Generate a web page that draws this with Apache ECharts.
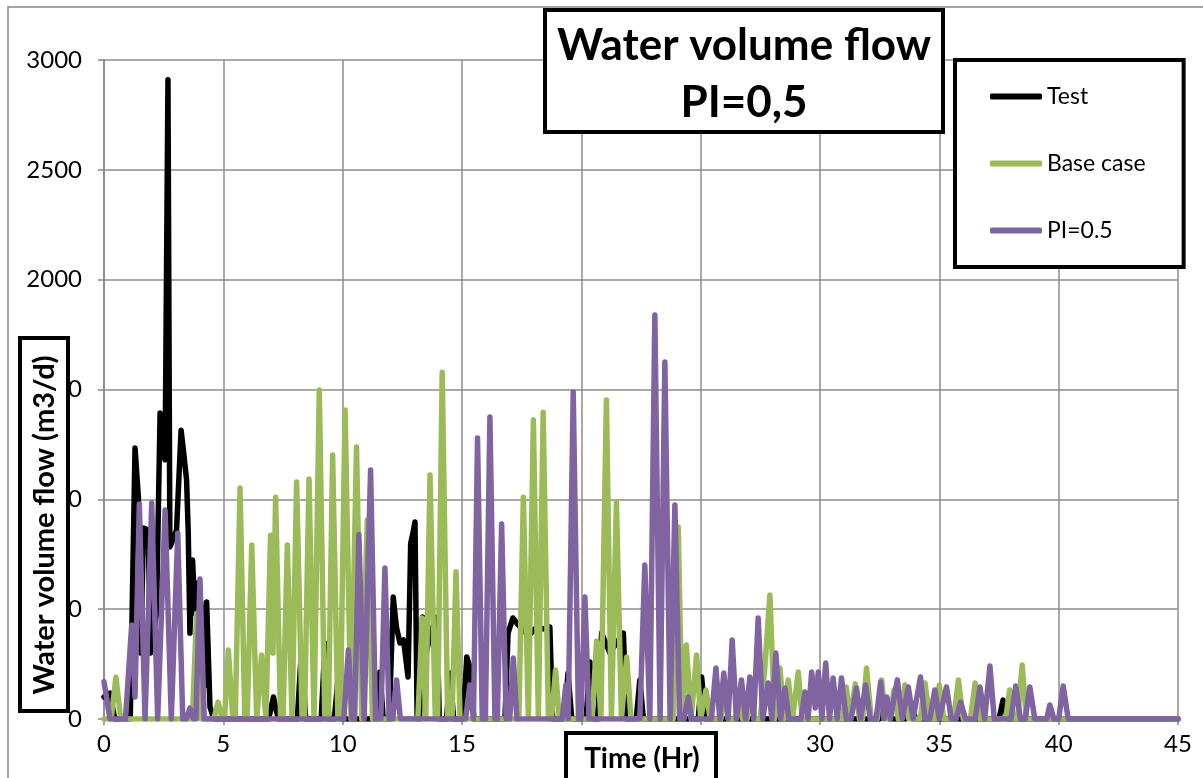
<!DOCTYPE html>
<html>
<head>
<meta charset="utf-8">
<script src="https://cdn.jsdelivr.net/npm/echarts@6/dist/echarts.min.js"></script>
<style>
  html, body { margin: 0; padding: 0; background: #fff; }
  #chart { width: 1203px; height: 778px; }
</style>
</head>
<body>
<div id="chart"></div>
<script>
// Test
const testTime = [0, 0.25, 0.45, 1.1, 1.3, 1.44, 1.55, 1.65, 1.85, 1.95, 2.2, 2.35, 2.42, 2.5, 2.56, 2.68, 2.76, 2.9, 3.04, 3.23, 3.35, 3.46, 3.53, 3.6, 3.71, 3.81, 3.95, 4.1, 4.2, 4.3, 4.44, 4.6,
  6.9, 7.1, 7.3, 8.1, 8.28, 8.45, 9.1, 9.26, 9.42, 9.65, 9.8, 9.95, 11.4, 11.56, 11.7, 11.95, 12.12, 12.25, 12.4, 12.55, 12.74, 12.85, 12.95, 13.03, 13.12,
  13.22, 13.35, 13.5, 13.7, 13.95, 14.05, 14.35, 14.5, 14.65, 15.05, 15.2, 15.33, 15.5, 16.8, 16.93, 17.13, 17.36, 17.6, 17.8, 18.13, 18.4, 18.68, 18.8,
  19.3, 19.44, 19.6, 20.2, 20.36, 20.5, 20.7, 20.85, 21.2, 21.5, 21.76, 21.9, 22.3, 22.45, 22.6, 24.9, 25.04, 25.2,
  32.5, 32.7, 32.9, 33.6, 33.8, 34.0, 37.5, 37.67, 37.85, 45]
const testFlow = [100, 118, 0, 0, 1234, 1010, 300, 870, 860, 300, 480, 1393, 1300, 1200, 1180, 2910, 783, 820, 860, 1315, 1200, 1088, 846, 391, 724, 482, 620, 480, 150, 533, 55, 0,
  0, 100, 0, 0, 328, 0, 0, 346, 0, 0, 177, 0, 0, 214, 0, 0, 555, 420, 346, 360, 191, 800, 850, 897, 0,
  0, 464, 300, 400, 464, 0, 0, 209, 0, 0, 282, 237, 0, 0, 391, 460, 428, 400, 380, 419, 410, 419, 0,
  0, 209, 0, 0, 260, 0, 0, 391, 300, 350, 391, 0, 0, 178, 0, 0, 191, 0,
  0, 60, 0, 0, 80, 0, 0, 86, 0, 0]

// Base case
const baseTime = [0, 0.3, 0.5, 0.7, 3.7, 3.88, 4.05, 4.6, 4.78, 4.95, 5.05, 5.21, 5.4, 5.5, 5.7, 5.9, 6.0, 6.19, 6.4, 6.45, 6.6, 6.78, 6.85, 6.98, 7.08, 7.19, 7.4,
  7.5, 7.68, 7.88, 7.9, 8.07, 8.3, 8.4, 8.59, 8.8, 8.85, 9.02, 9.25, 9.4, 9.58, 9.8, 9.9, 10.1, 10.35, 10.4, 10.58, 10.8, 10.85, 11.03, 11.25,
  13.15, 13.33, 13.48, 13.5, 13.66, 13.88, 13.98, 14.17, 14.4, 14.58, 14.75, 14.92, 17.38, 17.57, 17.78, 17.8, 17.99, 18.2, 18.22, 18.4, 18.62,
  18.75, 18.92, 19.08, 20.45, 20.64, 20.82, 20.86, 21.05, 21.26, 21.3, 21.47, 21.68, 21.75, 21.9, 22.08, 23.85, 24.06, 24.22, 24.25, 24.4, 24.6,
  24.65, 24.83, 25.0, 25.05, 25.22, 25.4, 25.85, 26.0, 26.15, 26.45, 26.6, 26.75, 26.95, 27.1, 27.25, 27.5, 27.69, 27.9, 28.1, 28.15, 28.32, 28.5,
  28.52, 28.67, 28.85, 28.92, 29.09, 29.25, 30.95, 31.1, 31.25, 31.33, 31.48, 31.65, 31.78, 31.95, 32.15, 32.4, 32.58, 32.75, 32.92, 33.1, 33.28,
  33.4, 33.56, 33.72, 34.2, 34.4, 34.6, 34.82, 35.0, 35.18, 35.6, 35.8, 36.0, 36.3, 36.5, 36.7, 37.78, 37.95, 38.1, 38.28, 38.47, 38.65, 45]
const baseFlow = [0, 0, 190, 0, 0, 480, 0, 0, 77, 0, 0, 314, 0, 0, 1052, 0, 0, 792, 0, 0, 291, 0, 0, 837, 300, 1010, 0,
  0, 792, 0, 0, 1079, 0, 0, 1092, 0, 0, 1498, 0, 0, 1202, 0, 0, 1407, 0, 0, 1238, 0, 0, 906, 0,
  0, 460, 0, 0, 1111, 0, 0, 1578, 0, 0, 670, 0, 0, 1010, 0, 0, 1361, 0, 0, 1397, 0,
  0, 223, 0, 0, 355, 0, 0, 1452, 0, 0, 988, 0, 0, 282, 0, 0, 874, 0, 0, 337, 0,
  0, 291, 0, 0, 132, 0, 0, 150, 0, 0, 120, 0, 0, 130, 0, 0, 237, 564, 0, 0, 232, 0,
  0, 178, 0, 0, 214, 0, 0, 146, 0, 0, 160, 0, 0, 232, 0, 0, 178, 0, 0, 132, 0,
  0, 155, 0, 0, 164, 0, 0, 155, 0, 0, 178, 0, 0, 164, 0, 0, 132, 0, 0, 246, 0, 0]

// PI=0.5
const piTime = [0, 0.08, 0.25, 0.9, 1.16, 1.3, 1.48, 1.72, 2.0, 2.25, 2.56, 2.82, 3.09, 3.3, 3.45, 3.6, 3.75, 3.85, 4.02, 4.2,
  10.05, 10.24, 10.4, 10.5, 10.68, 10.9, 10.98, 11.17, 11.38, 11.6, 11.77, 11.95, 12.1, 12.26, 12.42,
  15.15, 15.33, 15.48, 15.5, 15.65, 15.85, 15.98, 16.17, 16.38, 16.48, 16.66, 16.85, 17.0, 17.15, 17.3,
  19.2, 19.35, 19.45, 19.5, 19.66, 19.88, 19.98, 20.15, 20.32, 22.45, 22.66, 22.87, 22.9, 23.08, 23.3, 23.32, 23.5, 23.72, 23.75, 23.92, 24.12,
  24.3, 24.48, 24.62, 25.45, 25.64, 25.8, 25.97, 26.15, 26.32, 26.5, 26.71, 26.88, 27.06, 27.22, 27.41, 27.6, 27.83, 27.98, 28.15, 28.35, 28.53, 28.7,
  29.2, 29.37, 29.5, 29.65, 29.8, 29.93, 30.08, 30.24, 30.4, 30.55, 30.72, 30.9, 31.1, 31.3, 31.53, 31.7, 31.91, 32.1, 32.35, 32.54, 32.68, 32.8, 32.95,
  33.24, 33.45, 33.7, 33.9, 34.21, 34.4, 34.6, 34.81, 35.0, 35.3, 35.5, 35.7, 35.89, 36.1, 36.5, 36.7, 36.9, 37.12, 37.3, 38.0, 38.2, 38.4,
  38.6, 38.79, 39.0, 39.5, 39.63, 39.8, 40.0, 40.19, 40.4, 45]
const piFlow = [170, 168, 0, 0, 428, 100, 979, 0, 983, 0, 951, 0, 846, 0, 0, 50, 0, 0, 637, 0,
  0, 314, 0, 0, 840, 0, 0, 1133, 0, 0, 687, 0, 0, 178, 0,
  0, 155, 0, 0, 1279, 0, 0, 1375, 0, 0, 888, 0, 0, 278, 0,
  0, 155, 0, 0, 1489, 0, 0, 555, 0, 0, 701, 0, 0, 1839, 0, 0, 1625, 0, 0, 974, 0,
  0, 100, 0, 0, 232, 0, 209, 0, 360, 0, 178, 0, 191, 0, 460, 0, 164, 0, 300, 0, 141, 0,
  0, 123, 0, 214, 50, 214, 0, 255, 0, 187, 0, 187, 0, 0, 141, 0, 155, 0, 0, 168, 0, 100, 0,
  178, 0, 146, 0, 191, 0, 0, 132, 0, 146, 0, 0, 77, 0, 0, 146, 0, 241, 0, 0, 150, 0,
  0, 146, 0, 0, 64, 0, 0, 150, 0, 0]

const zip = (t, v) => t.map((x, i) => [x, v[i]])

const font = 'Lato'
const chart = echarts.init(document.getElementById('chart'))
const lineSeries = (name, color, t, v) => ({
  name,
  type: 'line',
  data: zip(t, v),
  showSymbol: false,
  symbol: 'none',
  color,
  lineStyle: { color, width: 5.5, join: 'round', cap: 'round' },
  emphasis: { disabled: true }
})

chart.setOption({
  animation: false,
  backgroundColor: '#fff',
  textStyle: { fontFamily: font },
  grid: { left: 104, right: 25, top: 60, bottom: 59 },
  legend: {
    data: ['Test', 'Base case', 'PI=0.5'],
    orient: 'vertical',
    left: 955,
    top: 60,
    padding: [25, 38, 25, 35],
    itemGap: 44,
    itemWidth: 52,
    itemHeight: 6,
    icon: 'roundRect',
    backgroundColor: '#fff',
    borderColor: '#000',
    borderWidth: 4,
    textStyle: { fontFamily: font, fontSize: 23, color: '#000' },
    z: 20
  },
  xAxis: {
    type: 'value',
    min: 0,
    max: 45,
    interval: 5,
    axisLine: { lineStyle: { color: '#868686', width: 1.5 } },
    axisTick: { show: true, length: 6, lineStyle: { color: '#868686', width: 1.5 } },
    axisLabel: { color: '#000', fontSize: 24, fontFamily: font, margin: 13 },
    splitLine: { show: true, lineStyle: { color: '#8c8c8c', width: 1.5 } }
  },
  yAxis: {
    type: 'value',
    min: 0,
    max: 3000,
    interval: 500,
    axisLine: { show: true, lineStyle: { color: '#868686', width: 1.5 } },
    axisTick: { show: true, length: 6, lineStyle: { color: '#868686', width: 1.5 } },
    axisLabel: { color: '#000', fontSize: 24, fontFamily: font, margin: 22, formatter: (v) => String(v) },
    splitLine: { show: true, lineStyle: { color: '#8c8c8c', width: 1.5 } }
  },
  graphic: [
    // chart area border
    { type: 'rect', shape: { x: 8, y: 7, width: 1400, height: 900 }, style: { fill: 'none', stroke: '#868686', lineWidth: 1.5 }, z: -1, silent: true },
    // title box
    { type: 'rect', shape: { x: 545, y: 10, width: 398, height: 122 }, style: { fill: '#fff', stroke: '#000', lineWidth: 4 }, z: 50 },
    { type: 'text', x: 744, y: 46, style: { text: 'Water volume flow', font: 'bold 44px Lato', fill: '#000', textAlign: 'center', textVerticalAlign: 'middle' }, z: 51 },
    { type: 'text', x: 744, y: 103, style: { text: 'PI=0,5', font: 'bold 44px Lato', fill: '#000', textAlign: 'center', textVerticalAlign: 'middle' }, z: 51 },
    // y axis title box
    { type: 'rect', shape: { x: 20, y: 338, width: 48, height: 373 }, style: { fill: '#fff', stroke: '#000', lineWidth: 4 }, z: 50 },
    { type: 'text', x: 45, y: 525, rotation: Math.PI / 2, style: { text: 'Water volume flow (m3/d)', font: 'bold 29px Lato', fill: '#000', textAlign: 'center', textVerticalAlign: 'middle' }, z: 51 },
    // x axis title box
    { type: 'rect', shape: { x: 566, y: 733, width: 150, height: 70 }, style: { fill: '#fff', stroke: '#000', lineWidth: 4 }, z: 50 },
    { type: 'text', x: 642, y: 759, style: { text: 'Time (Hr)', font: 'bold 28px Lato', fill: '#000', textAlign: 'center', textVerticalAlign: 'middle' }, z: 51 }
  ],
  series: [
    lineSeries('Test', '#000000', testTime, testFlow),
    lineSeries('Base case', '#9BBB59', baseTime, baseFlow),
    lineSeries('PI=0.5', '#8064A2', piTime, piFlow)
  ]
})
</script>
</body>
</html>
